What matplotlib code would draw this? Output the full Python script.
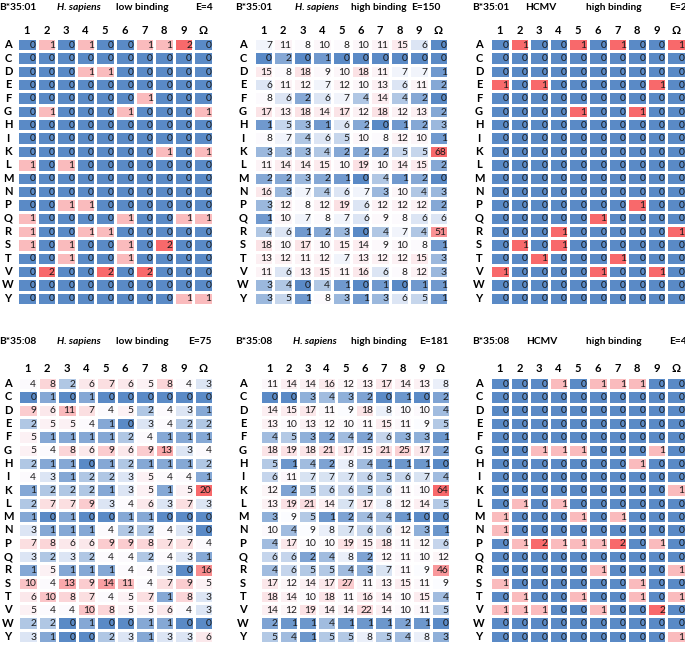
import numpy as np
import matplotlib.pyplot as plt
from matplotlib.colors import LinearSegmentedColormap, TwoSlopeNorm

plt.rcParams['font.family'] = ['Lato', 'DejaVu Sans']

amino_acids = list('ACDEFGHIKLMNPQRSTVWY')
positions = ['1', '2', '3', '4', '5', '6', '7', '8', '9', 'Ω']

# B*35:01  H. sapiens  low binding  E=4
b3501_hs_low = [
    [0, 1, 0, 1, 0, 0, 1, 1, 2, 0],
    [0, 0, 0, 0, 0, 0, 0, 0, 0, 0],
    [0, 0, 0, 1, 1, 0, 0, 0, 0, 0],
    [0, 0, 0, 0, 0, 0, 0, 0, 0, 0],
    [0, 0, 0, 0, 0, 0, 1, 0, 0, 0],
    [0, 1, 0, 0, 0, 1, 0, 0, 0, 1],
    [0, 0, 0, 0, 0, 0, 0, 0, 0, 0],
    [0, 0, 0, 0, 0, 0, 0, 0, 0, 0],
    [0, 0, 0, 0, 0, 0, 0, 1, 0, 1],
    [1, 0, 1, 0, 0, 0, 0, 0, 0, 0],
    [0, 0, 0, 0, 0, 0, 0, 0, 0, 0],
    [0, 0, 0, 0, 0, 0, 0, 0, 0, 0],
    [0, 0, 1, 1, 0, 0, 0, 0, 0, 0],
    [1, 0, 0, 0, 0, 1, 0, 0, 1, 1],
    [1, 0, 0, 1, 1, 0, 0, 0, 0, 0],
    [1, 0, 1, 0, 0, 1, 0, 2, 0, 0],
    [0, 0, 1, 0, 0, 1, 0, 0, 0, 0],
    [0, 2, 0, 0, 2, 0, 2, 0, 0, 0],
    [0, 0, 0, 0, 0, 0, 0, 0, 0, 0],
    [0, 0, 0, 0, 0, 0, 0, 0, 1, 1],
]

# B*35:01  H. sapiens  high binding  E=150
b3501_hs_high = [
    [7, 11, 8, 10, 8, 10, 11, 15, 6, 0],
    [0, 2, 0, 1, 0, 0, 0, 0, 0, 0],
    [15, 8, 18, 9, 10, 18, 11, 7, 7, 1],
    [6, 11, 12, 7, 12, 10, 13, 6, 11, 2],
    [8, 6, 2, 6, 7, 4, 14, 4, 2, 0],
    [17, 13, 18, 14, 17, 12, 18, 12, 13, 2],
    [1, 5, 3, 1, 6, 2, 0, 1, 2, 3],
    [8, 7, 4, 6, 5, 10, 8, 12, 10, 1],
    [3, 3, 3, 4, 2, 2, 2, 5, 5, 68],
    [11, 14, 14, 15, 10, 19, 10, 14, 15, 2],
    [2, 2, 3, 2, 1, 0, 4, 1, 2, 0],
    [16, 3, 7, 4, 6, 7, 3, 10, 4, 3],
    [3, 12, 8, 12, 19, 6, 12, 12, 12, 2],
    [1, 10, 7, 8, 7, 6, 9, 8, 6, 6],
    [4, 6, 1, 2, 3, 0, 4, 7, 4, 51],
    [18, 10, 17, 10, 15, 14, 9, 10, 8, 1],
    [13, 12, 11, 12, 7, 13, 12, 12, 15, 3],
    [11, 6, 13, 15, 11, 16, 6, 8, 12, 3],
    [3, 4, 0, 4, 1, 0, 1, 0, 1, 1],
    [3, 5, 1, 8, 3, 1, 3, 6, 5, 1],
]

# B*35:01  HCMV  high binding  E=2
b3501_cmv_high = [
    [0, 1, 0, 0, 1, 0, 1, 0, 0, 1],
    [0, 0, 0, 0, 0, 0, 0, 0, 0, 0],
    [0, 0, 0, 0, 0, 0, 0, 0, 0, 0],
    [1, 0, 1, 0, 0, 0, 0, 0, 1, 0],
    [0, 0, 0, 0, 0, 0, 0, 0, 0, 0],
    [0, 0, 0, 0, 1, 0, 0, 1, 0, 0],
    [0, 0, 0, 0, 0, 0, 0, 0, 0, 0],
    [0, 0, 0, 0, 0, 0, 0, 0, 0, 0],
    [0, 0, 0, 0, 0, 0, 0, 0, 0, 0],
    [0, 0, 0, 0, 0, 0, 0, 0, 0, 0],
    [0, 0, 0, 0, 0, 0, 0, 0, 0, 0],
    [0, 0, 0, 0, 0, 0, 0, 0, 0, 0],
    [0, 0, 0, 0, 0, 0, 0, 1, 0, 0],
    [0, 0, 0, 0, 0, 1, 0, 0, 0, 0],
    [0, 0, 0, 1, 0, 0, 0, 0, 0, 1],
    [0, 1, 0, 1, 0, 0, 0, 0, 0, 0],
    [0, 0, 1, 0, 0, 0, 1, 0, 0, 0],
    [1, 0, 0, 0, 0, 1, 0, 0, 1, 0],
    [0, 0, 0, 0, 0, 0, 0, 0, 0, 0],
    [0, 0, 0, 0, 0, 0, 0, 0, 0, 0],
]

# B*35:08  H. sapiens  low binding  E=75
b3508_hs_low = [
    [4, 8, 2, 6, 7, 6, 5, 8, 4, 3],
    [0, 1, 0, 1, 0, 0, 0, 0, 0, 0],
    [9, 6, 11, 7, 4, 5, 2, 4, 3, 1],
    [2, 5, 5, 4, 1, 0, 3, 4, 2, 2],
    [5, 1, 1, 1, 1, 2, 4, 1, 1, 1],
    [5, 4, 8, 6, 9, 6, 9, 13, 3, 4],
    [2, 1, 1, 0, 1, 2, 1, 1, 1, 2],
    [4, 3, 1, 2, 2, 3, 5, 4, 4, 1],
    [1, 2, 2, 2, 1, 3, 5, 1, 5, 20],
    [2, 7, 7, 9, 3, 4, 6, 3, 7, 3],
    [1, 0, 1, 0, 0, 1, 1, 0, 0, 0],
    [3, 1, 1, 1, 4, 2, 2, 4, 3, 0],
    [7, 8, 6, 6, 9, 9, 8, 7, 7, 4],
    [3, 2, 3, 2, 4, 4, 2, 4, 3, 1],
    [1, 5, 1, 1, 1, 4, 4, 3, 0, 16],
    [10, 4, 13, 9, 14, 11, 4, 7, 9, 5],
    [6, 10, 8, 7, 4, 5, 7, 1, 8, 3],
    [5, 4, 4, 10, 8, 5, 5, 6, 4, 3],
    [2, 2, 0, 1, 0, 0, 1, 1, 0, 0],
    [3, 1, 0, 0, 2, 3, 1, 3, 3, 6],
]

# B*35:08  H. sapiens  high binding  E=181
b3508_hs_high = [
    [11, 14, 14, 16, 12, 13, 17, 14, 13, 8],
    [0, 0, 3, 4, 3, 2, 0, 1, 0, 2],
    [14, 15, 17, 11, 9, 18, 8, 10, 10, 4],
    [13, 10, 13, 12, 10, 11, 15, 11, 9, 5],
    [4, 5, 3, 2, 4, 2, 6, 3, 3, 1],
    [18, 19, 18, 21, 17, 15, 21, 25, 17, 2],
    [5, 1, 4, 2, 8, 4, 1, 1, 1, 0],
    [6, 11, 7, 7, 7, 6, 5, 6, 7, 4],
    [12, 2, 5, 6, 6, 5, 6, 11, 10, 64],
    [13, 19, 21, 14, 7, 17, 8, 12, 14, 5],
    [3, 9, 5, 1, 2, 4, 4, 1, 0, 0],
    [10, 4, 9, 8, 7, 6, 6, 12, 3, 1],
    [4, 17, 10, 10, 19, 15, 18, 11, 12, 6],
    [6, 6, 2, 4, 8, 2, 12, 11, 10, 12],
    [4, 6, 5, 5, 4, 3, 7, 11, 9, 46],
    [17, 12, 14, 17, 27, 11, 13, 15, 11, 9],
    [18, 14, 10, 18, 11, 16, 14, 10, 15, 4],
    [14, 12, 19, 14, 14, 22, 14, 10, 11, 5],
    [2, 1, 1, 4, 1, 1, 1, 2, 1, 0],
    [5, 4, 1, 5, 5, 8, 5, 4, 8, 3],
]

# B*35:08  HCMV  high binding  E=4
b3508_cmv_high = [
    [0, 0, 0, 1, 0, 1, 1, 1, 0, 0],
    [0, 0, 0, 0, 0, 0, 0, 0, 0, 0],
    [0, 0, 0, 0, 0, 0, 0, 0, 0, 0],
    [0, 0, 0, 0, 0, 0, 0, 0, 0, 0],
    [0, 0, 0, 0, 0, 0, 0, 0, 0, 0],
    [0, 0, 1, 1, 1, 0, 0, 0, 1, 0],
    [0, 0, 0, 0, 0, 0, 0, 1, 0, 0],
    [0, 0, 0, 0, 0, 0, 0, 0, 0, 0],
    [0, 0, 0, 0, 0, 0, 0, 0, 0, 1],
    [0, 1, 0, 1, 0, 0, 0, 0, 0, 0],
    [1, 0, 0, 0, 1, 0, 1, 0, 0, 0],
    [1, 0, 0, 0, 0, 0, 0, 0, 0, 0],
    [0, 1, 2, 1, 1, 1, 2, 0, 1, 0],
    [0, 0, 0, 0, 0, 0, 0, 0, 0, 0],
    [0, 0, 0, 0, 0, 1, 0, 0, 0, 1],
    [1, 0, 0, 0, 0, 0, 0, 1, 0, 0],
    [0, 1, 0, 0, 1, 0, 0, 1, 0, 1],
    [1, 1, 1, 0, 0, 1, 0, 0, 2, 0],
    [0, 0, 0, 0, 0, 0, 0, 0, 0, 0],
    [0, 0, 0, 0, 0, 0, 0, 0, 0, 1],
]

allele = ['B*35:01', 'B*35:01', 'B*35:01', 'B*35:08', 'B*35:08', 'B*35:08']
source = ['H. sapiens', 'H. sapiens', 'HCMV', 'H. sapiens', 'H. sapiens', 'HCMV']
binding = ['low binding', 'high binding', 'high binding',
           'low binding', 'high binding', 'high binding']
n_peptides = [4, 150, 2, 75, 181, 4]
tables = [b3501_hs_low, b3501_hs_high, b3501_cmv_high,
          b3508_hs_low, b3508_hs_high, b3508_cmv_high]

W, H = 685, 646
# layout in pixels: grid left/right/top/bottom, label x, header x positions
layout = [
    dict(g=(17, 213, 38, 305), lab=8, hy=7, cy=31, tx=(-1, 79, 142, 213)),
    dict(g=(254, 448, 38, 305), lab=243, hy=7, cy=31, tx=(235, 317, 379, 440)),
    dict(g=(490, 686, 38, 305), lab=479, hy=7, cy=31, tx=(472, 541, 614, 687)),
    dict(g=(18, 213, 377, 643), lab=8, hy=342, cy=368, tx=(-1, 79, 142, 212)),
    dict(g=(260, 450, 377, 643), lab=243, hy=342, cy=368, tx=(235, 315, 379, 448)),
    dict(g=(490, 686, 377, 643), lab=479, hy=342, cy=368, tx=(472, 542, 614, 687)),
]

cmap = LinearSegmentedColormap.from_list('bwr_xl', ['#5A8AC6', '#FCFCFF', '#F8696B'])

fig = plt.figure(figsize=(W / 100, H / 100), dpi=100)


def fx(x):
    return x / W


def fy(y):
    return 1 - y / H


for k in range(6):
    data = np.array(tables[k])
    lay = layout[k]
    x0, x1, y0, y1 = lay['g']
    ax = fig.add_axes([fx(x0), fy(y1), (x1 - x0) / W, (y1 - y0) / H])
    norm = TwoSlopeNorm(vmin=0, vcenter=n_peptides[k] / 20, vmax=data.max())
    ax.pcolormesh(data, cmap=cmap, norm=norm, edgecolors='white', linewidth=1.0)
    ax.set_xlim(0, 10)
    ax.set_ylim(20, 0)
    ax.axis('off')
    for i in range(20):
        for j in range(10):
            ax.text(j + 0.93, i + 0.55, str(data[i, j]), ha='right', va='center',
                    fontsize=7.4, color='#1a1a1a')

    cw = (x1 - x0) / 10
    rh = (y1 - y0) / 20
    for j, p in enumerate(positions):
        fig.text(fx(x0 + (j + 0.5) * cw), fy(lay['cy']), p, ha='center', va='center',
                 fontsize=8, fontweight='bold')
    for i, a in enumerate(amino_acids):
        fig.text(fx(lay['lab']), fy(y0 + (i + 0.5) * rh), a, ha='center', va='center',
                 fontsize=8, fontweight='bold')

    tx = lay['tx']
    fig.text(fx(tx[0]), fy(lay['hy']), allele[k], ha='left', va='center',
             fontsize=7.3, fontweight='bold')
    fig.text(fx(tx[1]), fy(lay['hy']), source[k], ha='center', va='center',
             fontsize=7.3, fontweight='bold', style='italic' if 'sapiens' in source[k] else 'normal')
    fig.text(fx(tx[2]), fy(lay['hy']), binding[k], ha='center', va='center',
             fontsize=7.3, fontweight='bold')
    fig.text(fx(tx[3]), fy(lay['hy']), f'E={n_peptides[k]}', ha='right', va='center',
             fontsize=7.3, fontweight='bold')

fig.savefig('out.png', dpi=100)
